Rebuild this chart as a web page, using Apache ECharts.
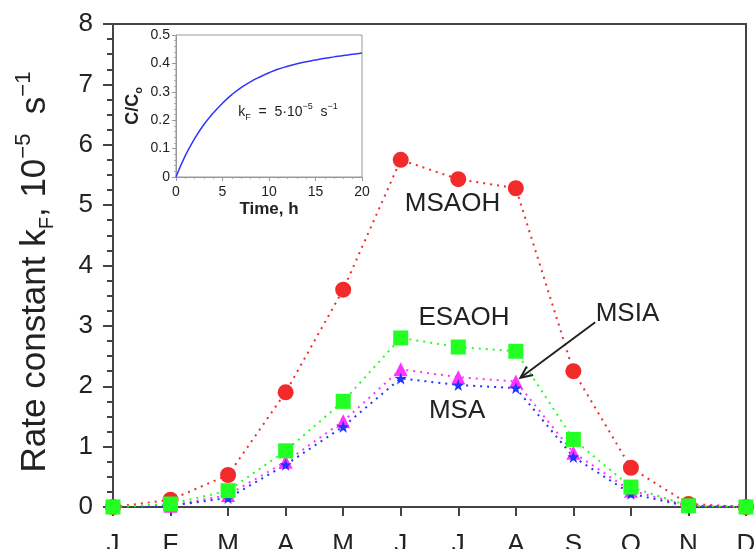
<!DOCTYPE html>
<html>
<head>
<meta charset="utf-8">
<script src="https://cdn.jsdelivr.net/npm/echarts@6/dist/echarts.min.js"></script>
<style>
  html, body { margin: 0; padding: 0; background: #fff; }
  #main { width: 754px; height: 549px; }
</style>
</head>
<body>
<div id="main"></div>
<script>
// months on the x axis
var months = ['J', 'F', 'M', 'A', 'M', 'J', 'J', 'A', 'S', 'O', 'N', 'D'];
// rate constants, 10^-5 s^-1
var msaoh = [0, 0.12, 0.53, 1.9, 3.6, 5.75, 5.43, 5.28, 2.25, 0.65, 0.05, 0];
var esaoh = [0, 0.05, 0.27, 0.93, 1.75, 2.8, 2.65, 2.58, 1.12, 0.33, 0.02, 0];
var msia = [0, 0.02, 0.2, 0.75, 1.42, 2.28, 2.15, 2.08, 0.9, 0.27, 0.02, 0];
var msa = [0, 0.02, 0.15, 0.7, 1.33, 2.13, 2.02, 1.97, 0.83, 0.22, 0.01, 0];
// inset: C/C0 against time (h)
var insetTime = [0, 1, 2, 3, 4, 5, 6, 7, 8, 9, 10, 11, 12, 13, 14, 15, 16, 17, 18, 19, 20];
var insetConc = [0, 0.075, 0.135, 0.185, 0.225, 0.26, 0.29, 0.315, 0.335, 0.352, 0.367,
                 0.38, 0.39, 0.399, 0.406, 0.412, 0.418, 0.423, 0.428, 0.432, 0.437];

var FONT = 'Liberation Sans, Arial, sans-serif';
var AXIS = '#444';
var star = 'path://M0,-10 L2.35,-3.24 L9.51,-3.09 L3.8,1.24 L5.88,8.09 L0,4 L-5.88,8.09 L-3.8,1.24 L-9.51,-3.09 L-2.35,-3.24 Z';

var chart = echarts.init(document.getElementById('main'));

function dotted(name, data, color, symbol, size) {
    return {
        name: name, type: 'line', data: data,
        xAxisIndex: 0, yAxisIndex: 0,
        symbol: symbol, symbolSize: size,
        showAllSymbol: true,
        lineStyle: { color: color, width: 2, type: [2, 5] },
        itemStyle: { color: color },
        animation: false
    };
}

var insetData = insetTime.map(function (t, i) { return [t, insetConc[i]]; });

chart.setOption({
    animation: false,
    textStyle: { fontFamily: FONT },
    grid: [
        { left: 113, top: 24, width: 633, height: 483, show: true, borderColor: AXIS, borderWidth: 2,
          containLabel: false, outerBoundsMode: 'none' },
        { left: 176, top: 35, width: 186, height: 142, show: true, borderColor: '#999', borderWidth: 1,
          backgroundColor: '#fff', containLabel: false, outerBoundsMode: 'none' }
    ],
    xAxis: [
        {
            type: 'category', data: months, boundaryGap: false, gridIndex: 0,
            axisLine: { lineStyle: { color: AXIS, width: 2 } },
            axisTick: { inside: false, length: 9, lineStyle: { color: AXIS, width: 2 } },
            axisLabel: { fontSize: 26, color: '#222', margin: 25, fontFamily: FONT, interval: 0 },
            splitLine: { show: false }
        },
        {
            type: 'value', gridIndex: 1, min: 0, max: 20, interval: 5,
            axisLine: { lineStyle: { color: '#999', width: 1 } },
            axisTick: { inside: false, length: 4, lineStyle: { color: '#999' } },
            minorTick: { show: true, splitNumber: 5, length: 2, lineStyle: { color: '#aaa' } },
            axisLabel: { fontSize: 14, color: '#222', margin: 8, fontFamily: FONT },
            splitLine: { show: false },
            name: 'Time, h', nameLocation: 'middle', nameGap: 24,
            nameTextStyle: { fontSize: 17, fontWeight: 'bold', color: '#222', fontFamily: FONT }
        }
    ],
    yAxis: [
        {
            type: 'value', gridIndex: 0, min: 0, max: 8, interval: 1,
            axisLine: { show: true, lineStyle: { color: AXIS, width: 2 } },
            axisTick: { show: true, inside: false, length: 10, lineStyle: { color: AXIS, width: 2 } },
            minorTick: { show: true, splitNumber: 4, length: 6, lineStyle: { color: AXIS, width: 2 } },
            axisLabel: { fontSize: 26, color: '#222', margin: 20, fontFamily: FONT },
            splitLine: { show: false }
        },
        {
            type: 'value', gridIndex: 1, min: 0, max: 0.5, interval: 0.1,
            axisLine: { show: true, lineStyle: { color: '#999', width: 1 } },
            axisTick: { show: true, inside: false, length: 4, lineStyle: { color: '#999' } },
            minorTick: { show: true, splitNumber: 5, length: 2, lineStyle: { color: '#aaa' } },
            axisLabel: {
                fontSize: 14, color: '#222', margin: 6, fontFamily: FONT,
                formatter: function (v) { return v === 0 ? '0' : v.toFixed(1); }
            },
            splitLine: { show: false },
            name: 'C/C{sub|o}', nameLocation: 'middle', nameRotate: 90, nameGap: 32,
            nameTextStyle: {
                fontSize: 18, fontWeight: 'bold', color: '#222', fontFamily: FONT, lineHeight: 22,
                rich: { sub: { fontSize: 11, fontWeight: 'bold', verticalAlign: 'bottom', lineHeight: 10, fontFamily: FONT } }
            }
        }
    ],
    series: [
        dotted('MSAOH', msaoh, '#f22a2a', 'circle', 16),
        dotted('MSIA', msia, '#ff33ff', 'triangle', 14),
        dotted('MSA', msa, '#2233ff', star, 12),
        dotted('ESAOH', esaoh, '#22ff22', 'rect', 15),
        {
            name: 'inset', type: 'line', xAxisIndex: 1, yAxisIndex: 1,
            data: insetData, smooth: true, showSymbol: false,
            lineStyle: { color: '#3333ff', width: 1.5 }, z: 5
        }
    ]
});

// category axis positions are whole indices; interpolate for annotations between months
function px(pt) {
    var i0 = Math.floor(pt[0]), f = pt[0] - i0;
    var p0 = chart.convertToPixel({ gridIndex: 0 }, [i0, pt[1]]);
    var p1 = chart.convertToPixel({ gridIndex: 0 }, [i0 + 1, pt[1]]);
    return [p0[0] + (p1[0] - p0[0]) * f, p0[1]];
}

function label(text, pt) {
    var p = px(pt);
    return {
        type: 'text', x: p[0], y: p[1], z: 20,
        style: { text: text, font: '26px ' + FONT, fill: '#222', align: 'center', verticalAlign: 'middle' }
    };
}

var a0 = px([8.38, 3.06]);
var a1 = px([7.08, 2.14]);
var ang = Math.atan2(a0[1] - a1[1], a0[0] - a1[0]);
var hl = 13, hw = 0.42;
var kp = chart.convertToPixel({ gridIndex: 1 }, [6.7, 0.229]);

chart.setOption({
    graphic: [
        {
            type: 'text', x: 35, y: 272, rotation: Math.PI / 2, z: 20,
            style: {
                text: 'Rate constant k{sub|F}, 10{sup|\u22125}  s{sup|\u22121}',
                font: '35px ' + FONT, fill: '#222', align: 'center', verticalAlign: 'middle',
                lineHeight: 44,
                rich: {
                    sub: { fontSize: 20, fontFamily: FONT, verticalAlign: 'bottom', lineHeight: 24 },
                    sup: { fontSize: 22, fontFamily: FONT, verticalAlign: 'top', lineHeight: 24 }
                }
            }
        },
        label('MSAOH', [5.9, 5.02]),
        label('ESAOH', [6.1, 3.13]),
        label('MSA', [5.98, 1.6]),
        label('MSIA', [8.94, 3.2]),
        {
            type: 'line', z: 20,
            shape: { x1: a0[0], y1: a0[1], x2: a1[0], y2: a1[1] },
            style: { stroke: '#222', lineWidth: 2 }
        },
        {
            type: 'polyline', z: 20,
            shape: {
                points: [
                    [a1[0] + hl * Math.cos(ang + hw), a1[1] + hl * Math.sin(ang + hw)],
                    [a1[0], a1[1]],
                    [a1[0] + hl * Math.cos(ang - hw), a1[1] + hl * Math.sin(ang - hw)]
                ]
            },
            style: { stroke: '#222', lineWidth: 2, fill: null }
        },
        {
            type: 'text', x: kp[0], y: kp[1], z: 20,
            style: {
                text: 'k{sub|F}  =  5\u00b710{sup|\u22125}  s{sup|\u22121}',
                font: '14px ' + FONT, fill: '#222', align: 'left', verticalAlign: 'middle',
                lineHeight: 20,
                rich: {
                    sub: { fontSize: 9, fontFamily: FONT, verticalAlign: 'bottom', lineHeight: 14 },
                    sup: { fontSize: 9, fontFamily: FONT, verticalAlign: 'top', lineHeight: 14 }
                }
            }
        }
    ]
});
</script>
</body>
</html>
